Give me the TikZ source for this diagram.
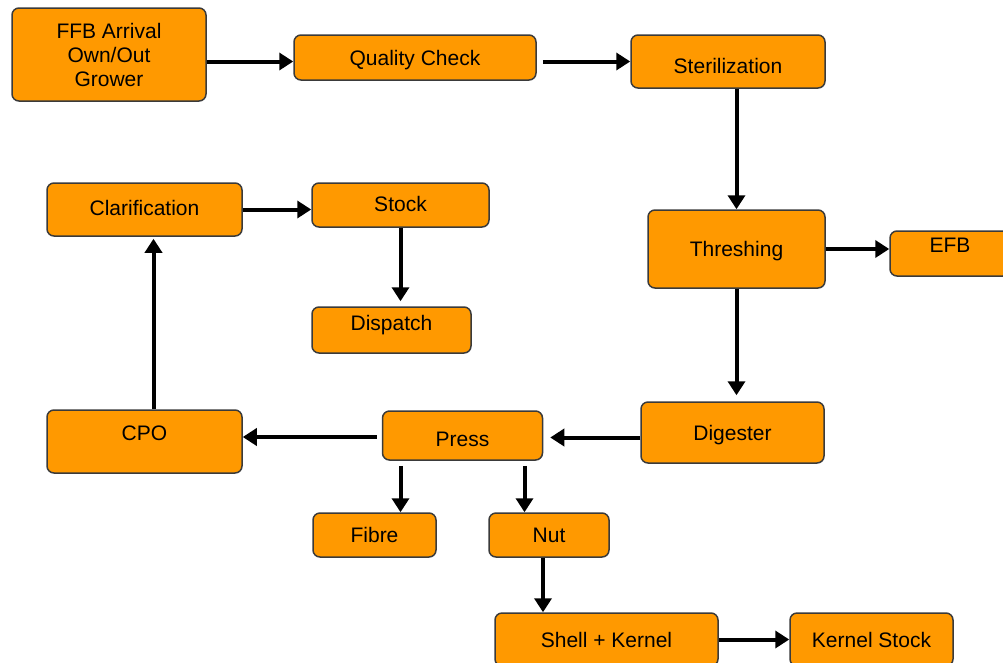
\documentclass[tikz,border=0pt]{standalone}
\usepackage{fontspec}
\setmainfont{Liberation Sans}
\usetikzlibrary{arrows.meta}
\definecolor{boxfill}{HTML}{FF9900}
\definecolor{boxline}{HTML}{3A3A3A}

\begin{document}
\begin{tikzpicture}[x=1pt, y=-1pt,
    stage/.style={draw=boxline, fill=boxfill, line width=1.5pt, rounded corners=7pt, inner sep=0pt, font=\fontsize{21}{24}\selectfont},
    one/.style={stage, text height=20pt, text depth=5pt},
    flow/.style={draw=black, line width=4pt, -{Triangle[length=14pt,width=17pt]}}]
    \clip (0,0) rectangle (1003,662);
    \path (109,54.5) node[stage, align=center, minimum width=194pt, minimum height=93pt](ffb) {FFB Arrival\\Own/Out\\Grower}
        (415,57.5) node[one, minimum width=242pt, minimum height=45pt](qc) {Quality Check}
        (728,61.5) node[one, minimum width=194pt, minimum height=53pt, text height=29pt](ster) {Sterilization}
        (736.5,249) node[one, minimum width=177pt, minimum height=78pt](thr) {Threshing}
        (950,253.5) node[one, minimum width=120pt, minimum height=45pt, text height=3pt](efb) {EFB};
    \path (144.5,209.5) node[one, minimum width=195pt, minimum height=53pt, text height=17pt](clar) {Clarification}
        (400.5,205) node[one, minimum width=177pt, minimum height=44pt, text height=18pt](stock) {Stock}
        (391.5,330) node[one, minimum width=159pt, minimum height=46pt, text height=6pt](disp) {Dispatch}
        (144.5,441.5) node[one, minimum width=195pt, minimum height=63pt, text height=3pt](cpo) {CPO}
        (462.5,435.5) node[one, minimum width=160pt, minimum height=49pt, text height=27pt](press) {Press}
        (732.5,432.5) node[one, minimum width=183pt, minimum height=61pt](dig) {Digester};
    \path (374.5,535) node[one, minimum width=123pt, minimum height=44pt](fibre) {Fibre}
        (549,535) node[one, minimum width=120pt, minimum height=44pt](nut) {Nut}
        (606.5,639.5) node[one, minimum width=223pt, minimum height=53pt](shell) {Shell + Kernel}
        (871.5,639.5) node[one, minimum width=163pt, minimum height=53pt](kstock) {Kernel Stock};
    \draw[flow] ([yshift=-7pt]ffb.east) -- ([yshift=-4pt]qc.west);
    \draw[flow] ([xshift=6pt,yshift=-4pt]qc.east) -- (ster.west);
    \draw[flow] (thr.north |- ster.south) -- (thr.north);
    \draw[flow] (thr.east) -- (thr.east -| efb.west);
    \draw[flow] (thr.south) -- ([yshift=6pt]thr.south |- dig.north);
    \draw[flow] ([yshift=-5pt]dig.west) -- ([xshift=7pt,yshift=-5pt]dig.west -| press.east);
    \draw[flow] ([xshift=-5pt,yshift=-1.5pt]press.west) -- ([yshift=-1.5pt]press.west -| cpo.east);
    \draw[flow] ([xshift=9pt]cpo.north) -- ([xshift=9pt,yshift=-2pt]clar.south);
    \draw[flow] (clar.east) -- (clar.east -| stock.west);
    \draw[flow] (stock.south) -- ([yshift=5pt]stock.south |- disp.north);
    \draw[flow] ([xshift=-62pt,yshift=-5pt]press.south) -- ([xshift=-62pt]press.south |- fibre.north);
    \draw[flow] ([xshift=62pt,yshift=-5pt]press.south) -- ([xshift=62pt]press.south |- nut.north);
    \draw[flow] ([xshift=-6pt]nut.south) -- ([xshift=-6pt]nut.south |- shell.north);
    \draw[flow] (shell) -- (kstock);
\end{tikzpicture}
\end{document}
